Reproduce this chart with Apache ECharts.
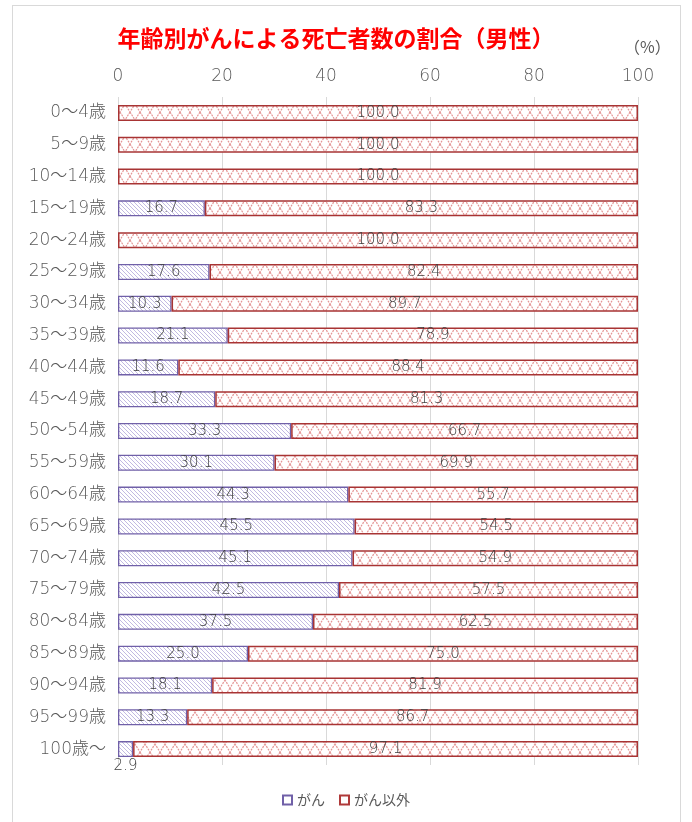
<!DOCTYPE html>
<html><head><meta charset="utf-8">
<script src="https://cdn.jsdelivr.net/npm/echarts@6/dist/echarts.min.js"></script>
<style>
html,body{margin:0;padding:0;background:#fff;}
#frame{position:absolute;left:12px;top:5px;width:669px;height:830px;border:1px solid #d9d9d9;box-sizing:border-box;}
#c{position:absolute;left:0;top:0;width:692px;height:822px;}
</style></head>
<body><div id="frame"></div><div id="c"></div>
<script>
const categories = ['0～4歳','5～9歳','10～14歳','15～19歳','20～24歳','25～29歳','30～34歳','35～39歳','40～44歳','45～49歳','50～54歳','55～59歳','60～64歳','65～69歳','70～74歳','75～79歳','80～84歳','85～89歳','90～94歳','95～99歳','100歳～'];
const cancer = [0,0,0,16.7,0,17.6,10.3,21.1,11.6,18.7,33.3,30.1,44.3,45.5,45.1,42.5,37.5,25.0,18.1,13.3,2.9];
const other = [100,100,100,83.3,100,82.4,89.7,78.9,88.4,81.3,66.7,69.9,55.7,54.5,54.9,57.5,62.5,75.0,81.9,86.7,97.1];
const xTicks = [0,20,40,60,80,100];

function stripe(){
  const c=document.createElement('canvas');c.width=4;c.height=4;
  const g=c.getContext('2d');g.fillStyle='#fff';g.fillRect(0,0,4,4);
  g.strokeStyle='#c2bae2';g.lineWidth=1;
  g.beginPath();g.moveTo(-1,-1);g.lineTo(5,5);g.moveTo(-1,3);g.lineTo(1,5);g.moveTo(3,-1);g.lineTo(5,1);g.stroke();
  return c;
}
function lattice(){
  const w=10,h=16;
  const c=document.createElement('canvas');c.width=w;c.height=h;
  const g=c.getContext('2d');g.fillStyle='#fff';g.fillRect(0,0,w,h);
  g.strokeStyle='#e49494';g.lineWidth=1.2;g.setLineDash([2,1]);
  g.beginPath();g.moveTo(0,0);g.lineTo(w,h);g.moveTo(w,0);g.lineTo(0,h);g.stroke();
  return c;
}
const patC={image:stripe(),repeat:'repeat'};
const patO={image:lattice(),repeat:'repeat'};

const chart=echarts.init(document.getElementById('c'));
const cjk='"Noto Sans CJK JP", sans-serif';
const font='"DejaVu Sans", "Noto Sans CJK JP", sans-serif';
const lbl={show:true,position:'inside',color:'#404040',fontSize:15,fontFamily:font,fontWeight:200,formatter:p=>p.value>0?p.value.toFixed(1):''};
chart.setOption({
  animation:false,
  textStyle:{fontFamily:font},
  title:{text:'年齢別がんによる死亡者数の割合（男性）',left:331,top:22,textAlign:'center',textStyle:{color:'#ff0000',fontSize:23,fontWeight:'bold',fontFamily:cjk}},
  graphic:[{type:'text',left:624,top:39,style:{text:'（%）',fill:'#595959',font:'16px '+cjk}}],
  legend:{bottom:10,left:'center',itemWidth:9,itemHeight:9,itemGap:14,textStyle:{color:'#595959',fontSize:14,fontFamily:cjk},
    data:[{name:'がん',icon:'rect',itemStyle:{color:'#fff',borderColor:'#7060a8',borderWidth:2}},{name:'がん以外',icon:'rect',itemStyle:{color:'#fff',borderColor:'#b03a3a',borderWidth:2}}]},
  grid:{left:118,right:54,top:97,bottom:57},
  xAxis:{type:'value',position:'top',min:0,max:100,interval:20,
    axisLine:{show:false},axisTick:{show:false},
    axisLabel:{color:'#595959',fontSize:17,fontWeight:200,margin:12,formatter:v=>xTicks.includes(v)?String(v):''},
    splitLine:{lineStyle:{color:'#d9d9d9'}}},
  yAxis:{type:'category',inverse:true,data:categories,axisLine:{show:false},axisTick:{show:false},
    axisLabel:{color:'#595959',fontSize:17,fontWeight:200,margin:12}},
  series:[
    {name:'がん',type:'bar',stack:'a',barWidth:16,data:cancer.map((v,i)=>v===0?'-':(i===cancer.length-1?{value:v,label:{position:'bottom',distance:2}}:v)),
      itemStyle:{color:patC,borderColor:'#7060a8',borderWidth:1.3},label:lbl},
    {name:'がん以外',type:'bar',stack:'a',barWidth:16,data:other,
      itemStyle:{color:patO,borderColor:'#a83434',borderWidth:1.5},label:lbl}
  ]
});
</script></body></html>
